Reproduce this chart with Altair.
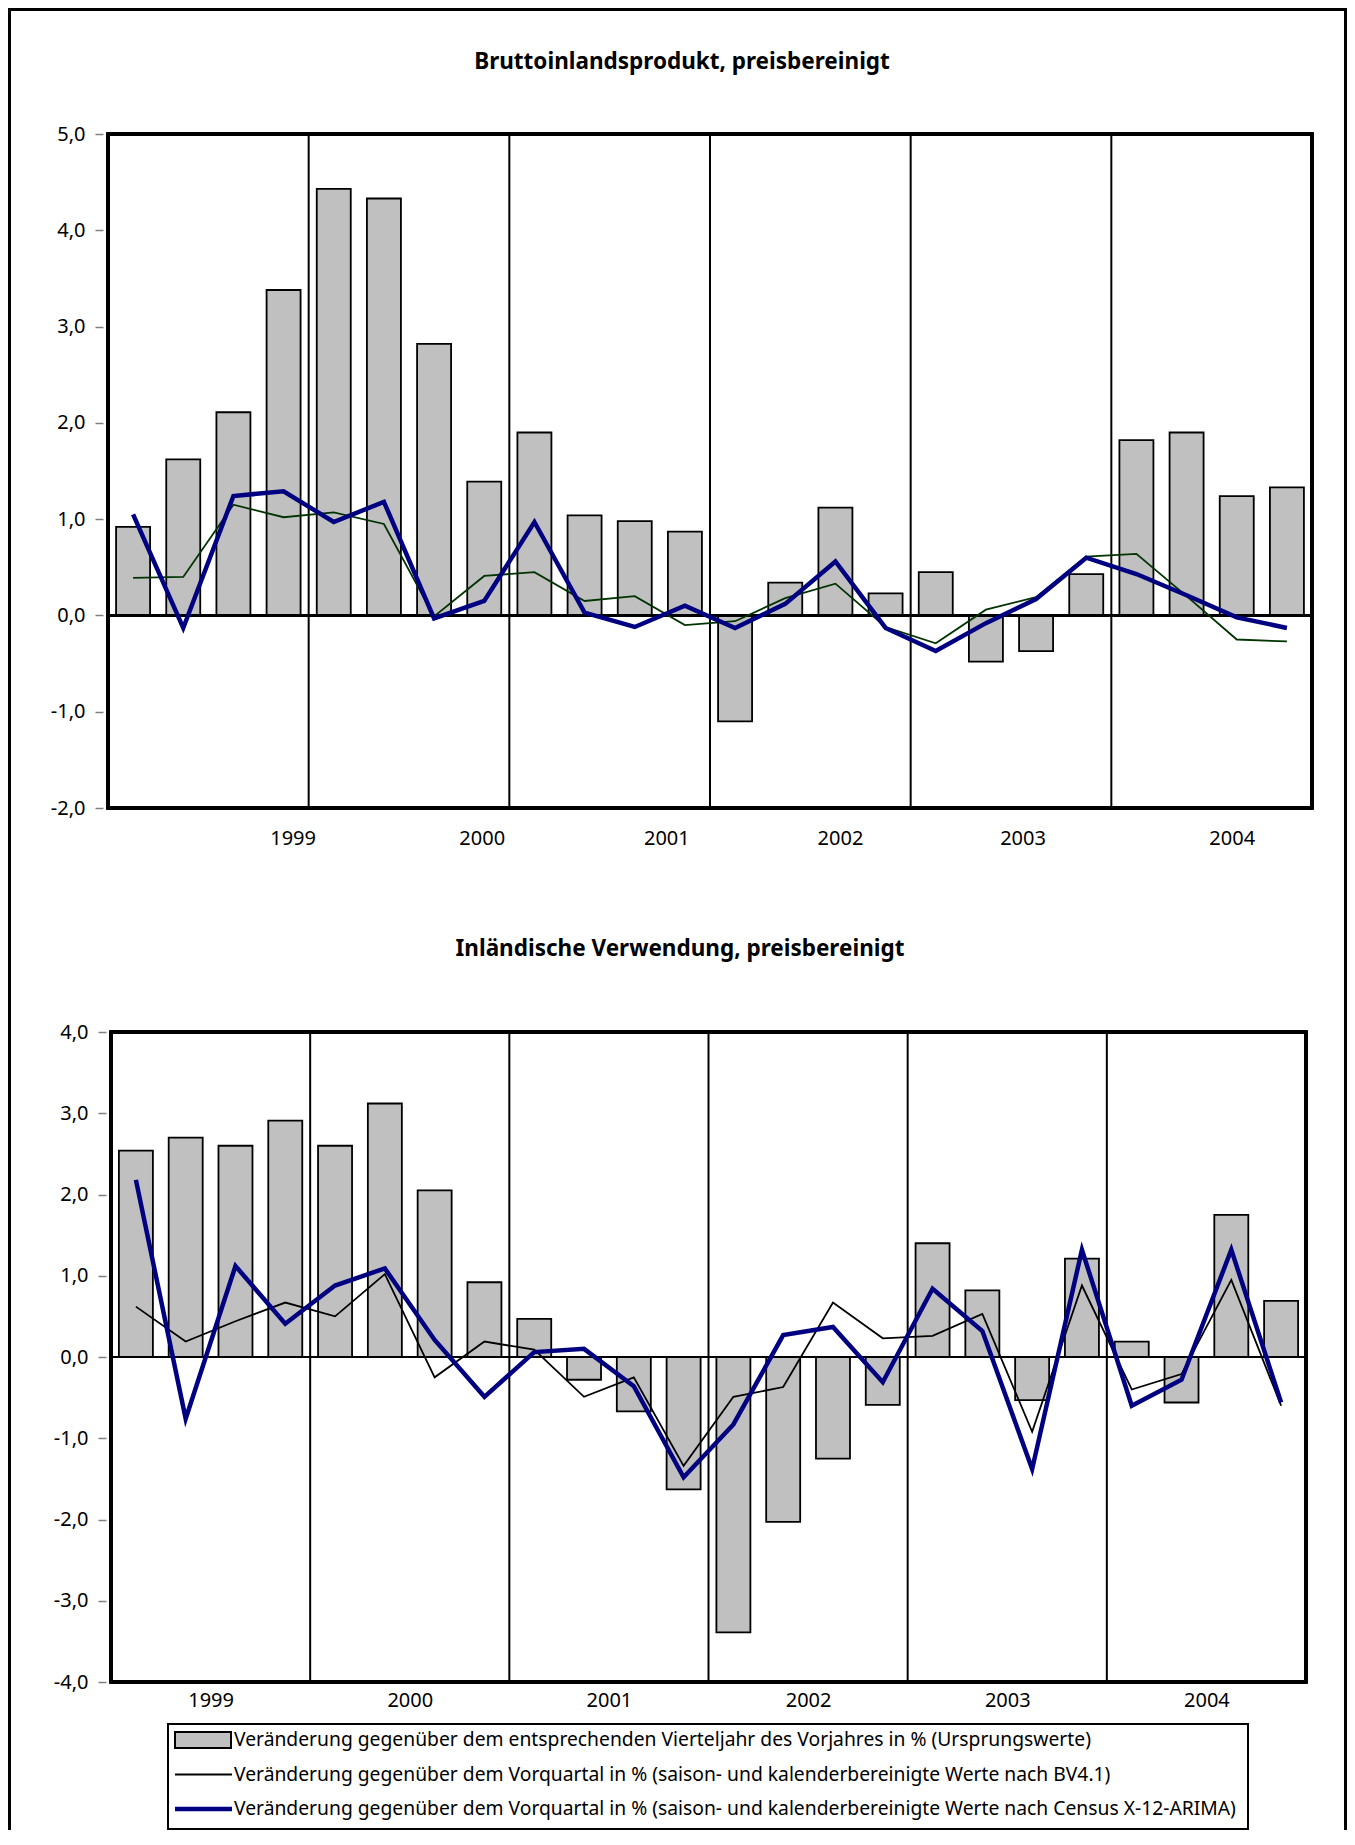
import altair as alt
import pandas as pd

# ---------------- data ----------------
years = [1999, 2000, 2001, 2002, 2003, 2004]
quarters = list(range(24))

# Bruttoinlandsprodukt
bip_vj = [0.92, 1.62, 2.11, 3.38, 4.43, 4.33, 2.82, 1.39, 1.90, 1.04, 0.98, 0.87,
          -1.10, 0.34, 1.12, 0.23, 0.45, -0.48, -0.37, 0.43, 1.82, 1.90, 1.24, 1.33]
bip_bv = [0.39, 0.40, 1.15, 1.02, 1.07, 0.95, -0.01, 0.41, 0.45, 0.15, 0.20, -0.10,
          -0.06, 0.18, 0.33, -0.12, -0.29, 0.06, 0.19, 0.61, 0.64, 0.20, -0.25, -0.27]
bip_x12 = [1.05, -0.13, 1.24, 1.29, 0.97, 1.18, -0.03, 0.15, 0.97, 0.03, -0.12, 0.10,
           -0.13, 0.12, 0.56, -0.13, -0.37, -0.08, 0.17, 0.60, 0.43, 0.21, -0.02, -0.13]

# Inländische Verwendung
iv_vj = [2.54, 2.70, 2.60, 2.91, 2.60, 3.12, 2.05, 0.92, 0.47, -0.28, -0.67, -1.63,
         -3.39, -2.03, -1.25, -0.59, 1.40, 0.82, -0.53, 1.21, 0.19, -0.56, 1.75, 0.69]
iv_bv = [0.62, 0.19, 0.44, 0.67, 0.50, 1.02, -0.25, 0.19, 0.09, -0.49, -0.25, -1.34,
         -0.49, -0.37, 0.67, 0.23, 0.26, 0.53, -0.92, 0.88, -0.40, -0.21, 0.95, -0.60]
iv_x12 = [2.18, -0.76, 1.12, 0.41, 0.88, 1.09, 0.21, -0.49, 0.06, 0.10, -0.36, -1.48,
          -0.83, 0.27, 0.37, -0.31, 0.84, 0.32, -1.38, 1.32, -0.60, -0.28, 1.32, -0.56]

top_year_label_pos = [3.68, 7.45, 11.13, 14.59, 18.23, 22.40]
bottom_year_label_pos = [2, 6, 10, 14, 18, 22]
year_bounds = [4, 8, 12, 16, 20]
top_ticks = [-2, -1, 0, 1, 2, 3, 4, 5]
bottom_ticks = [-4, -3, -2, -1, 0, 1, 2, 3, 4]

titles = ["Bruttoinlandsprodukt, preisbereinigt",
          "Inländische Verwendung, preisbereinigt"]
legend_labels = [
    "Veränderung gegenüber dem entsprechenden Vierteljahr des Vorjahres in % (Ursprungswerte)",
    "Veränderung gegenüber dem Vorquartal in % (saison- und kalenderbereinigte Werte nach BV4.1)",
    "Veränderung gegenüber dem Vorquartal in % (saison- und kalenderbereinigte Werte nach Census X-12-ARIMA)",
]

# ---------------- styling ----------------
W, H = 1339, 1822
FONT = "Noto Sans"
FS = 20
BAR_FILL = "#c0c0c0"
NAVY = "#000080"

YEAR_EXPR = "'' + (1999 + round((datum.value - 2) / 4))"
NUM_EXPR = "replace(replace(format(datum.value, '.1f'), '.', ','), '\u2212', '-')"


def panel(vj, bv, x12, bv_color, x_range, y_range, y_dom, y_ticks,
          x_label_pos, x_axis_y, y_axis_x, x_lab_pad):
    df = pd.DataFrame({"q": quarters, "vj": vj, "bv": bv, "x12": x12})
    df["center"] = df["q"] + 0.5
    seps = pd.DataFrame({"sep": year_bounds})

    xs = alt.Scale(domain=[0, 24], range=x_range, nice=False, zero=False)
    ys = alt.Scale(domain=y_dom, range=y_range, nice=False, zero=False)
    ax_x = alt.Axis(values=x_label_pos, labelExpr=YEAR_EXPR, orient="bottom",
                    offset=x_axis_y - H, domain=False, ticks=False, tickSize=0,
                    grid=False, labelPadding=x_lab_pad, labelFont=FONT,
                    labelFontSize=FS, labelColor="black", labelFlush=False,
                    labelOverlap=False, title=None)
    ax_y = alt.Axis(values=y_ticks, labelExpr=NUM_EXPR, orient="left",
                    offset=-y_axis_x, domain=False, ticks=True, tickSize=8,
                    tickColor="#808080", tickWidth=1.5, grid=False,
                    labelPadding=10, labelFont=FONT, labelFontSize=FS,
                    labelColor="black", labelOverlap=False, title=None)

    def X(f):
        return alt.X(f, type="quantitative", scale=xs, axis=ax_x)

    def Y(f):
        return alt.Y(f, type="quantitative", scale=ys, axis=ax_y)

    base = alt.Chart(df)
    bars = base.mark_bar(size=34, fill=BAR_FILL, stroke="black", strokeWidth=1.8).encode(
        x=X("center"), y=Y("vj"), y2=alt.Y2Datum(0)
    )
    zero = base.mark_rule(color="black", strokeWidth=1.8).encode(
        x=alt.XDatum(0, type="quantitative", scale=xs, axis=ax_x),
        x2=alt.X2Datum(24),
        y=alt.YDatum(0, type="quantitative", scale=ys, axis=ax_y),
    )
    sep = alt.Chart(seps).mark_rule(color="black", strokeWidth=2).encode(
        x=X("sep"),
        y=alt.YDatum(y_dom[0], type="quantitative", scale=ys, axis=ax_y),
        y2=alt.Y2Datum(y_dom[1]),
    )
    frame = base.mark_rect(fillOpacity=0, stroke="black", strokeWidth=2.5).encode(
        x=alt.XDatum(0, type="quantitative", scale=xs, axis=ax_x),
        x2=alt.X2Datum(24),
        y=alt.YDatum(y_dom[0], type="quantitative", scale=ys, axis=ax_y),
        y2=alt.Y2Datum(y_dom[1]),
    )
    line_bv = base.mark_line(color=bv_color, strokeWidth=1.8).encode(
        x=X("center"), y=Y("bv")
    )
    line_x12 = base.mark_line(color=NAVY, strokeWidth=4.5).encode(
        x=X("center"), y=Y("x12")
    )
    return alt.layer(bars, zero, sep, frame, line_bv, line_x12)


top = panel(bip_vj, bip_bv, bip_x12, "#003300",
            x_range=[95, 1309], y_range=[800, 126], y_dom=[-2, 5], y_ticks=top_ticks,
            x_label_pos=top_year_label_pos, x_axis_y=800, y_axis_x=95, x_lab_pad=20)

bottom = panel(iv_vj, iv_bv, iv_x12, "black",
               x_range=[98, 1303], y_range=[1674, 1024], y_dom=[-4, 4], y_ticks=bottom_ticks,
               x_label_pos=bottom_year_label_pos, x_axis_y=1674, y_axis_x=98, x_lab_pad=8)

# ---------------- titles ----------------
one = pd.DataFrame({"k": [0]})
t1 = alt.Chart(pd.DataFrame({"t": [titles[0]]})).mark_text(
    font=FONT, fontSize=22.5, fontWeight="bold", align="center", baseline="middle", color="black"
).encode(x=alt.value(674), y=alt.value(54), text="t:N")
t2 = alt.Chart(pd.DataFrame({"t": [titles[1]]})).mark_text(
    font=FONT, fontSize=22.5, fontWeight="bold", align="center", baseline="middle", color="black"
).encode(x=alt.value(672), y=alt.value(941), text="t:N")

# ---------------- outer frame ----------------
fr_left = alt.Chart(one).mark_rule(color="black", strokeWidth=3).encode(
    x=alt.value(1.5), y=alt.value(0), y2=alt.value(H))
fr_top = alt.Chart(one).mark_rule(color="black", strokeWidth=3).encode(
    x=alt.value(0), x2=alt.value(W), y=alt.value(1.5))
fr_right = alt.Chart(one).mark_rule(color="black", strokeWidth=3).encode(
    x=alt.value(W - 1.5), y=alt.value(0), y2=alt.value(H))

# ---------------- legend ----------------
leg_df = pd.DataFrame({"row": [0, 1, 2], "label": legend_labels})
ly = alt.Y("row:Q", scale=alt.Scale(domain=[0, 2], range=[1732, 1801], nice=False, zero=False),
           axis=None)
leg_box = alt.Chart(one).mark_rect(fill="white", stroke="black", strokeWidth=2).encode(
    x=alt.value(160), x2=alt.value(1240), y=alt.value(1716), y2=alt.value(1821))
leg_text = alt.Chart(leg_df).mark_text(
    font=FONT, fontSize=19.3, align="left", baseline="middle", color="black"
).encode(x=alt.value(226), y=ly, text="label:N")
leg_bar = alt.Chart(leg_df).transform_filter("datum.row == 0").mark_point(
    shape="M-1,-0.29H1V0.29H-1Z", size=3136, filled=True, fill=BAR_FILL,
    stroke="black", strokeWidth=2, opacity=1
).encode(x=alt.value(195), y=ly)
leg_l1 = alt.Chart(leg_df).transform_filter("datum.row == 1").mark_rule(
    color="black", strokeWidth=2).encode(x=alt.value(167), x2=alt.value(224), y=ly)
leg_l2 = alt.Chart(leg_df).transform_filter("datum.row == 2").mark_rule(
    color=NAVY, strokeWidth=4.5).encode(x=alt.value(167), x2=alt.value(224), y=ly)
legend = alt.layer(leg_box, leg_bar, leg_l1, leg_l2, leg_text)

chart = alt.layer(
    top, bottom, legend, t1, t2, fr_left, fr_top, fr_right
).resolve_scale(
    x="independent", y="independent"
).resolve_axis(
    x="independent", y="independent"
).properties(
    width=W, height=H, padding=0,
    autosize=alt.AutoSizeParams(type="none"),
    background="white",
).configure_view(stroke=None).configure_text(font=FONT)

chart.save("out.html", embed_options={"renderer": "svg", "actions": False})
